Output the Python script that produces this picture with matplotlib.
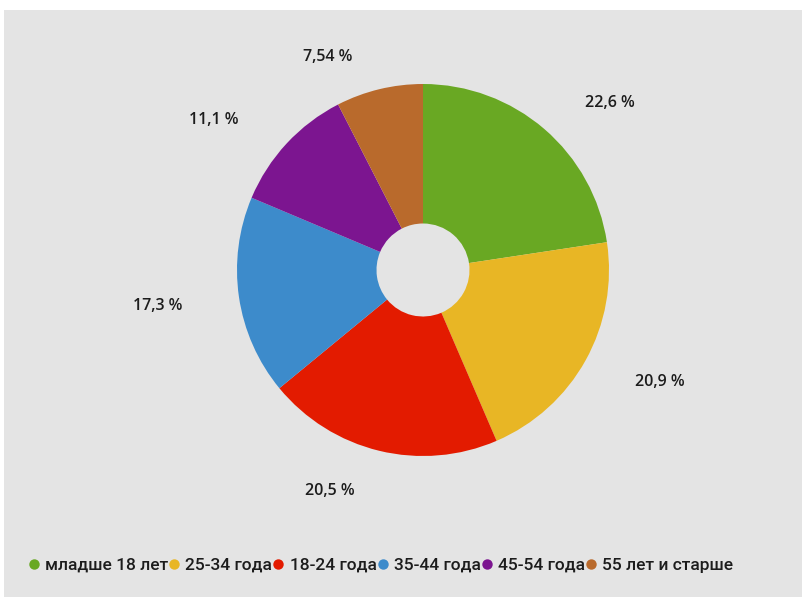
import matplotlib
matplotlib.use("Agg")
import matplotlib.pyplot as plt
from matplotlib.lines import Line2D
from matplotlib.patches import Rectangle

# Audience share by age group
categories = ["младше 18 лет", "25-34 года", "18-24 года", "35-44 года", "45-54 года", "55 лет и старше"]
shares = [22.6, 20.9, 20.5, 17.3, 11.1, 7.54]
share_labels = ["22,6 %", "20,9 %", "20,5 %", "17,3 %", "11,1 %", "7,54 %"]

colors = ["#69a823", "#e8b625", "#e31b00", "#3d8bcb", "#7c1590", "#b96a2c"]
# label anchor points, in units of the pie radius
label_pos = [(1.005, 0.898), (1.274, -0.602), (-0.50, -1.188),
             (-1.425, -0.194), (-1.124, 0.806), (-0.51, 1.145)]

W, H = 802, 597
fig = plt.figure(figsize=(W / 100, H / 100), dpi=100)
fig.patch.set_facecolor("white")
fig.add_artist(Rectangle((4 / W, 0), 1, (H - 10) / H, transform=fig.transFigure,
                         facecolor="#e4e4e4", edgecolor="none", zorder=0))

# square axes centred on the pie, radius 186 px
cx, cy, R = 423, H - 270, 186
half = 260
ax = fig.add_axes([(cx - half) / W, (cy - half) / H, 2 * half / W, 2 * half / H])
ax.set_facecolor("none")

ax.pie(shares, colors=colors, startangle=90, counterclock=False, radius=1,
       wedgeprops=dict(width=0.75, linewidth=0))

L = half / R
ax.set_xlim(-L, L)
ax.set_ylim(-L, L)
ax.axis("off")

for (x, y), lab in zip(label_pos, share_labels):
    ax.text(x, y, lab, ha="center", va="center", fontsize=11.5,
            fontweight="semibold", color="#1c1c1c", family="Open Sans")

handles = [Line2D([], [], marker="o", linestyle="none", markersize=7.5,
                  markerfacecolor=c, markeredgecolor="none") for c in colors]
fig.legend(handles, categories, loc="center", bbox_to_anchor=(0.475, (H - 565) / H),
           ncol=6, frameon=False, handletextpad=0.35, columnspacing=0.05,
           handlelength=0.6, prop=dict(family="Roboto", size=12.5, weight="medium"),
           labelcolor="#1c1c1c")

fig.savefig("out.png", dpi=100, facecolor=fig.get_facecolor())
